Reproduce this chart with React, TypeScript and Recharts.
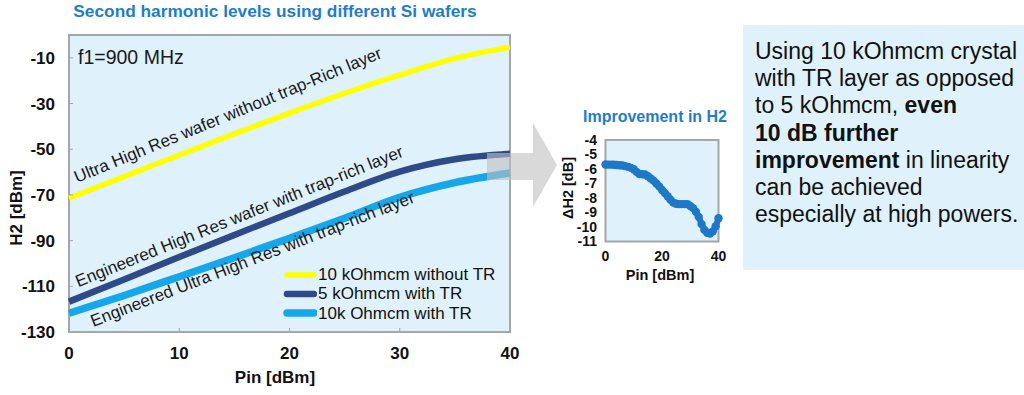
import React from "react";
import {
  CartesianGrid,
  Legend,
  Line,
  LineChart,
  ReferenceArea,
  ReferenceDot,
  XAxis,
  YAxis,
} from "recharts";

const FONT = '"Liberation Sans", Arial, Helvetica, sans-serif';
const BG = "#dff1fa";
const FRAME = "#a6a6a6";
const BLUE_TEXT = "#1f7dc8";

// main chart: H2 vs Pin
const pin = [0, 5, 10, 15, 20, 25, 30, 35, 40];
const h2NoTr10k = [-71.4, -62, -52.5, -43.3, -34.2, -25.5, -17.5, -10.2, -5.3];
const h2Tr5k = [-116.7, -107, -97.2, -87.5, -78, -68.5, -59.8, -54.4, -52];
const h2Tr10k = [-121.8, -114, -105.8, -97.5, -89, -80.2, -71, -64.6, -60.4];

const mainXTicks = [0, 10, 20, 30, 40];
const mainYTicks = [-130, -110, -90, -70, -50, -30, -10];

const seriesKeys = ["noTr10k", "tr5k", "tr10k"] as const;
const seriesNames = {
  noTr10k: "10 kOhmcm without TR",
  tr5k: "5 kOhmcm with TR",
  tr10k: "10k Ohmcm with TR",
};
const seriesColors = { noTr10k: "#ffff00", tr5k: "#2e4a87", tr10k: "#16a6ea" };
const seriesWidths = { noTr10k: 5.5, tr5k: 6.5, tr10k: 7.5 };

// inset: improvement in H2
const pinFine = [
  0, 1, 2, 3, 4, 5, 6, 7, 8, 9, 10, 11, 12, 13, 14, 15, 16, 17, 18, 19, 20,
  21, 22, 23, 24, 25, 26, 27, 28, 29, 30, 31, 32, 33, 34, 35, 36, 37, 38, 39, 40,
];
const deltaH2 = [
  -5.69, -5.7, -5.7, -5.71, -5.72, -5.74, -5.76, -5.8, -5.85, -5.92, -6.02,
  -6.2, -6.34, -6.36, -6.38, -6.5, -6.65, -6.8, -7.0, -7.2, -7.45, -7.65,
  -7.88, -8.12, -8.32, -8.4, -8.42, -8.42, -8.42, -8.42, -8.55, -8.7, -8.95,
  -9.3, -9.8, -10.2, -10.4, -10.45, -10.3, -9.95, -9.4,
];
const insetXTicks = [0, 20, 40];
const insetYTicks = [-11, -10, -9, -8, -7, -6, -5, -4];

// annotations inside the main plot (anchored in data coordinates)
const notes = [
  { text: "f1=900 MHz", x: 0.82, y: -12.5, angle: 0, size: 19.5 },
  { text: "Ultra High Res wafer without trap-Rich layer", x: 0.73, y: -64.8, angle: -22.3, size: 17 },
  { text: "Engineered High Res wafer with trap-rich layer", x: 0.85, y: -110.4, angle: -21.9, size: 17 },
  { text: "Engineered Ultra High Res with trap-rich layer", x: 2.2, y: -127.8, angle: -21.2, size: 17 },
];

const textLines = [
  [{ t: "Using 10 kOhmcm crystal" }],
  [{ t: "with TR layer as opposed" }],
  [{ t: "to 5 kOhmcm, " }, { t: "even", b: true }],
  [{ t: "10 dB further", b: true }],
  [{ t: "improvement", b: true }, { t: " in linearity" }],
  [{ t: "can be achieved" }],
  [{ t: "especially at high powers." }],
];

const mainData = pin.map((p, i) => ({
  pin: p,
  noTr10k: h2NoTr10k[i],
  tr5k: h2Tr5k[i],
  tr10k: h2Tr10k[i],
}));
const insetData = pinFine.map((p, i) => ({ pin: p, delta: deltaH2[i] }));

function noteShape(n: (typeof notes)[number]) {
  return (props: any) => {
    const { cx, cy } = props;
    return (
      <text
        x={cx}
        y={cy}
        transform={n.angle ? `rotate(${n.angle} ${cx} ${cy})` : undefined}
        fontSize={n.size}
        fontFamily={FONT}
        fill="#1a1a1a"
      >
        {n.text}
      </text>
    );
  };
}

function LegendBox(props: any) {
  const items = [...(props.payload || [])].sort(
    (a: any, b: any) => seriesKeys.indexOf(a.dataKey) - seriesKeys.indexOf(b.dataKey)
  );
  return (
    <div style={{ fontFamily: FONT, fontSize: 17, color: "#111", lineHeight: "19.3px" }}>
      {items.map((it: any) => (
        <div key={it.dataKey} style={{ display: "flex", alignItems: "center", whiteSpace: "nowrap" }}>
          <svg width={34} height={12} style={{ marginRight: 1 }}>
            <line
              x1={4}
              x2={31}
              y1={6}
              y2={6}
              stroke={it.color}
              strokeWidth={seriesWidths[it.dataKey as keyof typeof seriesWidths]}
              strokeLinecap="round"
            />
          </svg>
          <span>{it.value}</span>
        </div>
      ))}
    </div>
  );
}

function Txt({ x, y, size, bold, color, rotate, children }: any) {
  return (
    <div
      style={{
        position: "absolute",
        left: x,
        top: y,
        transform: `translate(-50%, -50%)${rotate ? ` rotate(${rotate}deg)` : ""}`,
        fontFamily: FONT,
        fontSize: size,
        fontWeight: bold ? 700 : 400,
        color: color || "#111",
        whiteSpace: "nowrap",
        lineHeight: 1,
      }}
    >
      {children}
    </div>
  );
}

export default function App() {
  const tickMain = { fontFamily: FONT, fontSize: 17, fontWeight: 700, fill: "#111" };
  const tickInset = { fontFamily: FONT, fontSize: 14, fontWeight: 700, fill: "#111" };
  return (
    <div
      style={{
        position: "absolute",
        left: 0,
        top: 0,
        width: 1024,
        height: 395,
        background: "#fff",
        overflow: "hidden",
      }}
    >
      <Txt x={275} y={12} size={17.3} bold color={BLUE_TEXT}>
        Second harmonic levels using different Si wafers
      </Txt>

      <div style={{ position: "absolute", left: 0, top: 0 }}>
        <LineChart width={520} height={395} data={mainData} margin={{ top: 35, right: 10, bottom: 23, left: 9 }}>
          <CartesianGrid horizontal={false} vertical={false} fill={BG} />
          <XAxis
            dataKey="pin"
            type="number"
            domain={[0, 40]}
            ticks={mainXTicks}
            height={40}
            axisLine={false}
            tickLine={{ stroke: FRAME }}
            tickSize={-4}
            tickMargin={19}
            tick={tickMain}
          />
          <YAxis
            type="number"
            domain={[-130, 0]}
            ticks={mainYTicks}
            width={60}
            axisLine={false}
            tickLine={{ stroke: FRAME }}
            tickSize={-4}
            tickMargin={18}
            tick={tickMain}
          />
          <ReferenceArea x1={0} x2={40} y1={-130} y2={0} fill="none" stroke={FRAME} strokeWidth={2} />
          {seriesKeys.map((k) => (
            <Line
              key={k}
              dataKey={k}
              name={seriesNames[k]}
              type="monotone"
              stroke={seriesColors[k]}
              strokeWidth={seriesWidths[k]}
              dot={false}
              isAnimationActive={false}
            />
          ))}
          {notes.map((n) => (
            <ReferenceDot key={n.text} x={n.x} y={n.y} r={1} shape={noteShape(n)} />
          ))}
          <Legend
            layout="horizontal"
            verticalAlign="middle"
            align="center"
            content={LegendBox}
            wrapperStyle={{ left: 283, top: 265, width: 230, height: 60 }}
          />
        </LineChart>
      </div>

      <Txt x={275} y={377} size={17} bold>
        Pin [dBm]
      </Txt>
      <Txt x={16} y={208} size={17} bold rotate={-90}>
        H2 [dBm]
      </Txt>

      <svg width={1024} height={395} style={{ position: "absolute", left: 0, top: 0, pointerEvents: "none" }}>
        <polygon
          points="487,153 533,153 533,123 557,165 533,207 533,180 487,180"
          fill="#bfbfbf"
          fillOpacity={0.6}
        />
      </svg>

      <Txt x={655} y={117} size={16} bold color={BLUE_TEXT}>
        Improvement in H2
      </Txt>
      <div style={{ position: "absolute", left: 560, top: 100 }}>
        <LineChart width={170} height={200} data={insetData} margin={{ top: 40, right: 11.5, bottom: 28.5, left: 5.5 }}>
          <CartesianGrid horizontal={false} vertical={false} fill={BG} />
          <XAxis
            dataKey="pin"
            type="number"
            domain={[0, 40]}
            ticks={insetXTicks}
            height={30}
            axisLine={false}
            tickLine={false}
            tickSize={0}
            tickMargin={10}
            tick={tickInset}
          />
          <YAxis
            type="number"
            domain={[-11, -4]}
            ticks={insetYTicks}
            width={40}
            axisLine={false}
            tickLine={false}
            tickSize={0}
            tickMargin={8.5}
            tick={tickInset}
            interval={0}
          />
          <ReferenceArea x1={0} x2={40} y1={-11} y2={-4} fill="none" stroke={FRAME} strokeWidth={2} />
          <Line
            dataKey="delta"
            type="linear"
            stroke="#1e78c8"
            strokeWidth={6}
            dot={{ r: 4.2, fill: "#1e78c8", stroke: "none" }}
            isAnimationActive={false}
          />
        </LineChart>
      </div>
      <Txt x={660} y={275} size={14.5} bold>
        Pin [dBm]
      </Txt>
      <Txt x={568} y={188} size={14.5} bold rotate={-90}>
        ΔH2 [dB]
      </Txt>

      <div
        style={{
          position: "absolute",
          left: 743,
          top: 25,
          width: 281,
          height: 245,
          background: BG,
          boxSizing: "border-box",
          paddingLeft: 12,
          paddingTop: 12.7,
          fontFamily: FONT,
          fontSize: 23,
          lineHeight: "27.3px",
          color: "#111",
          whiteSpace: "nowrap",
        }}
      >
        {textLines.map((line, i) => (
          <div key={i}>
            {line.map((s, j) => (
              <span key={j} style={{ fontWeight: s.b ? 700 : 400 }}>
                {s.t}
              </span>
            ))}
          </div>
        ))}
      </div>
    </div>
  );
}
